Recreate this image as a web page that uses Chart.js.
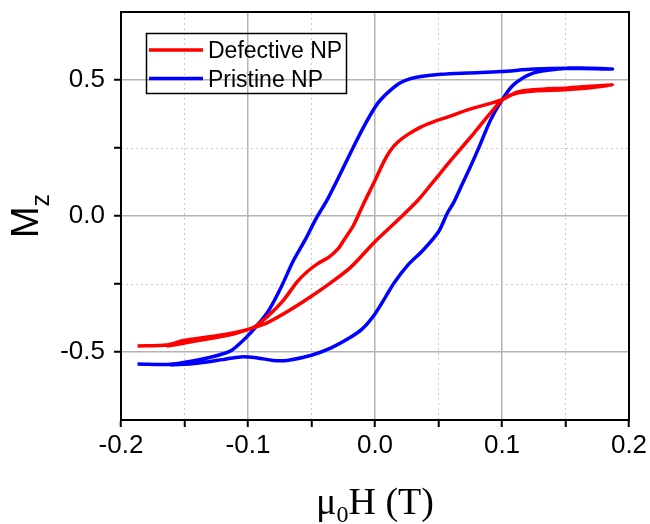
<!DOCTYPE html>
<html>
<head>
<meta charset="utf-8">
<script src="https://cdn.jsdelivr.net/npm/chart.js@4.4.0/dist/chart.umd.min.js"></script>
<style>
html, body { margin: 0; padding: 0; background: #fff; }
#wrap { width: 650px; height: 524px; }
</style>
</head>
<body>
<div id="wrap"><canvas id="chart" width="650" height="524"></canvas></div>
<script>
var seriesNames = ['Defective NP', 'Pristine NP'];
var seriesColors = ['#ff0000', '#0000ff'];

// each loop: up sweep (left to right) then down sweep (right to left)
var defectiveH = [-0.164, -0.151, -0.132, -0.114, -0.098, -0.085, -0.067, -0.051, -0.035, -0.019, -0.001, 0.018, 0.034, 0.044, 0.060, 0.078, 0.091, 0.101, 0.112, 0.125, 0.152, 0.187,
  0.152, 0.125, 0.112, 0.099, 0.073, 0.060, 0.046, 0.036, 0.026, 0.018, 0.012, 0.007, -0.001, -0.009, -0.017, -0.024, -0.029, -0.036, -0.045, -0.053, -0.061, -0.072, -0.085, -0.096, -0.114, -0.132, -0.151, -0.164, -0.187];
var defectiveM = [-0.478, -0.468, -0.452, -0.437, -0.414, -0.393, -0.346, -0.298, -0.246, -0.188, -0.099, -0.015, 0.059, 0.115, 0.206, 0.305, 0.379, 0.430, 0.452, 0.460, 0.465, 0.482,
  0.471, 0.464, 0.455, 0.426, 0.390, 0.368, 0.346, 0.327, 0.300, 0.272, 0.240, 0.200, 0.121, 0.045, -0.035, -0.085, -0.120, -0.150, -0.175, -0.203, -0.240, -0.309, -0.371, -0.410, -0.432, -0.445, -0.458, -0.474, -0.478];

var pristineH = [-0.161, -0.140, -0.120, -0.106, -0.095, -0.080, -0.068, -0.050, -0.035, -0.020, -0.010, 0.000, 0.008, 0.015, 0.026, 0.038, 0.050, 0.057, 0.062, 0.068, 0.075, 0.081, 0.091, 0.099, 0.109, 0.125, 0.144, 0.162, 0.187,
  0.152, 0.125, 0.099, 0.073, 0.052, 0.036, 0.028, 0.020, 0.012, 0.005, 0.000, -0.009, -0.017, -0.027, -0.037, -0.047, -0.055, -0.064, -0.075, -0.085, -0.098, -0.106, -0.114, -0.132, -0.161, -0.187];
var pristineM = [-0.548, -0.541, -0.528, -0.518, -0.520, -0.531, -0.530, -0.512, -0.486, -0.448, -0.415, -0.360, -0.300, -0.246, -0.180, -0.125, -0.058, 0.011, 0.050, 0.110, 0.180, 0.243, 0.353, 0.419, 0.482, 0.526, 0.540, 0.544, 0.540,
  0.543, 0.540, 0.531, 0.526, 0.521, 0.513, 0.505, 0.490, 0.462, 0.430, 0.400, 0.327, 0.254, 0.158, 0.065, -0.015, -0.088, -0.162, -0.272, -0.357, -0.430, -0.467, -0.497, -0.522, -0.545, -0.544];

var xTicks = [-0.2, -0.1, 0, 0.1, 0.2];
var xMinor = [-0.15, -0.05, 0.05, 0.15];
var yTicks = [-0.5, 0, 0.5];
var yMinor = [-0.25, 0.25];

function toPoints(hs, ms) {
  var pts = [];
  for (var i = 0; i < hs.length; i++) pts.push({x: hs[i], y: ms[i]});
  return pts;
}

function isIn(list, v) {
  for (var i = 0; i < list.length; i++) {
    if (Math.abs(list[i] - v) < 1e-9) return true;
  }
  return false;
}

function allTicks(major, minor) {
  return major.concat(minor).sort(function(a, b) { return a - b; })
    .map(function(v) { return {value: v}; });
}

var majorGrid = '#b4b4b4';
var minorGrid = '#c8c8c8';

// titles with subscripts and the boxed legend
var annotate = {
  id: 'annotate',
  afterDraw: function(chart) {
    var ctx = chart.ctx;
    var area = chart.chartArea;
    ctx.save();
    ctx.fillStyle = '#000';
    ctx.textBaseline = 'alphabetic';
    ctx.textAlign = 'left';

    // y title: M_z
    ctx.font = '38px "Liberation Sans", Arial, sans-serif';
    var mW = ctx.measureText('M').width;
    ctx.font = '25px "Liberation Sans", Arial, sans-serif';
    var zW = ctx.measureText('z').width;
    var yc = (area.top + area.bottom) / 2;
    ctx.translate(38, yc + (mW + zW) / 2);
    ctx.rotate(-Math.PI / 2);
    ctx.font = '38px "Liberation Sans", Arial, sans-serif';
    ctx.fillText('M', 0, 0);
    ctx.font = '25px "Liberation Sans", Arial, sans-serif';
    ctx.fillText('z', mW, 11);
    ctx.setTransform(1, 0, 0, 1, 0, 0);

    // x title: mu_0 H (T)
    var big = '38px "Liberation Serif", "Times New Roman", serif';
    var small = '24px "Liberation Serif", "Times New Roman", serif';
    ctx.font = big;
    var w1 = ctx.measureText('\u03bc').width;
    var w3 = ctx.measureText('H (T)').width;
    ctx.font = small;
    var w2 = ctx.measureText('0').width;
    var xs = (area.left + area.right) / 2 - (w1 + w2 + w3) / 2;
    var base = 514;
    ctx.font = big;
    ctx.fillText('\u03bc', xs, base);
    ctx.font = small;
    ctx.fillText('0', xs + w1, base + 8);
    ctx.font = big;
    ctx.fillText('H (T)', xs + w1 + w2, base);

    // legend
    ctx.lineWidth = 1.5;
    ctx.strokeStyle = '#000';
    ctx.strokeRect(146.5, 33.5, 200, 60);
    ctx.font = '23px "Liberation Sans", Arial, sans-serif';
    var rows = [50, 78.5];
    chart.data.datasets.forEach(function(ds, i) {
      ctx.strokeStyle = ds.borderColor;
      ctx.lineWidth = 3.5;
      ctx.beginPath();
      ctx.moveTo(149, rows[i]);
      ctx.lineTo(203, rows[i]);
      ctx.stroke();
      ctx.fillStyle = '#000';
      ctx.fillText(ds.label, 208, rows[i] + 8);
    });
    ctx.restore();
  }
};

var datasets = [
  {label: seriesNames[0], data: toPoints(defectiveH, defectiveM), borderColor: seriesColors[0]},
  {label: seriesNames[1], data: toPoints(pristineH, pristineM), borderColor: seriesColors[1]}
];
datasets.forEach(function(ds) {
  ds.showLine = true;
  ds.borderWidth = 3.5;
  ds.pointRadius = 0;
  ds.pointHoverRadius = 0;
  ds.tension = 0.3;
  ds.fill = false;
});

var tickFont = {family: '"Liberation Sans", Arial, sans-serif', size: 26};

new Chart(document.getElementById('chart'), {
  type: 'scatter',
  data: {datasets: datasets},
  plugins: [annotate],
  options: {
    responsive: false,
    animation: false,
    layout: {padding: {top: 12, right: 21, bottom: 0, left: 0}},
    plugins: {legend: {display: false}, tooltip: {enabled: false}},
    scales: {
      x: {
        type: 'linear',
        position: 'bottom',
        min: -0.2,
        max: 0.2,
        afterBuildTicks: function(scale) { scale.ticks = allTicks(xTicks, xMinor); },
        afterFit: function(scale) {
          scale.height = 104;
          scale.paddingLeft = 0;
          scale.paddingRight = 0;
        },
        ticks: {
          autoSkip: false,
          maxRotation: 0,
          color: '#000',
          font: tickFont,
          padding: 3,
          callback: function(v) { return isIn(xTicks, v) ? v.toFixed(1) : ''; }
        },
        grid: {
          color: function(c) {
            var v = c.tick ? c.tick.value : 0;
            if (Math.abs(Math.abs(v) - 0.2) < 1e-9) return 'rgba(0,0,0,0)';
            return isIn(xTicks, v) ? majorGrid : 'rgba(0,0,0,0)';
          },
          lineWidth: 1.5,
          tickColor: '#000',
          tickLength: 7,
          tickWidth: 2
        },
        border: {display: true, color: '#000', width: 2}
      },
      xMinorAxis: {
        type: 'linear',
        position: 'top',
        min: -0.2,
        max: 0.2,
        afterBuildTicks: function(scale) { scale.ticks = xMinor.map(function(v) { return {value: v}; }); },
        ticks: {display: false},
        grid: {color: minorGrid, lineWidth: 1, drawTicks: false},
        border: {display: true, color: '#000', width: 2, dash: [2, 3]}
      },
      y: {
        type: 'linear',
        position: 'left',
        min: -0.75,
        max: 0.75,
        afterBuildTicks: function(scale) { scale.ticks = allTicks(yTicks, yMinor); },
        afterFit: function(scale) {
          scale.width = 121;
          scale.paddingTop = 0;
          scale.paddingBottom = 0;
        },
        ticks: {
          autoSkip: false,
          color: '#000',
          font: tickFont,
          padding: 9,
          callback: function(v) { return isIn(yTicks, v) ? v.toFixed(1) : ''; }
        },
        grid: {
          color: function(c) {
            var v = c.tick ? c.tick.value : 0;
            return isIn(yTicks, v) ? majorGrid : 'rgba(0,0,0,0)';
          },
          lineWidth: 1.5,
          tickColor: '#000',
          tickLength: 7,
          tickWidth: 2
        },
        border: {display: true, color: '#000', width: 2}
      },
      yMinorAxis: {
        type: 'linear',
        position: 'right',
        min: -0.75,
        max: 0.75,
        afterBuildTicks: function(scale) { scale.ticks = yMinor.map(function(v) { return {value: v}; }); },
        ticks: {display: false},
        grid: {color: minorGrid, lineWidth: 1, drawTicks: false},
        border: {display: true, color: '#000', width: 2, dash: [2, 3]}
      }
    }
  }
});
</script>
</body>
</html>
